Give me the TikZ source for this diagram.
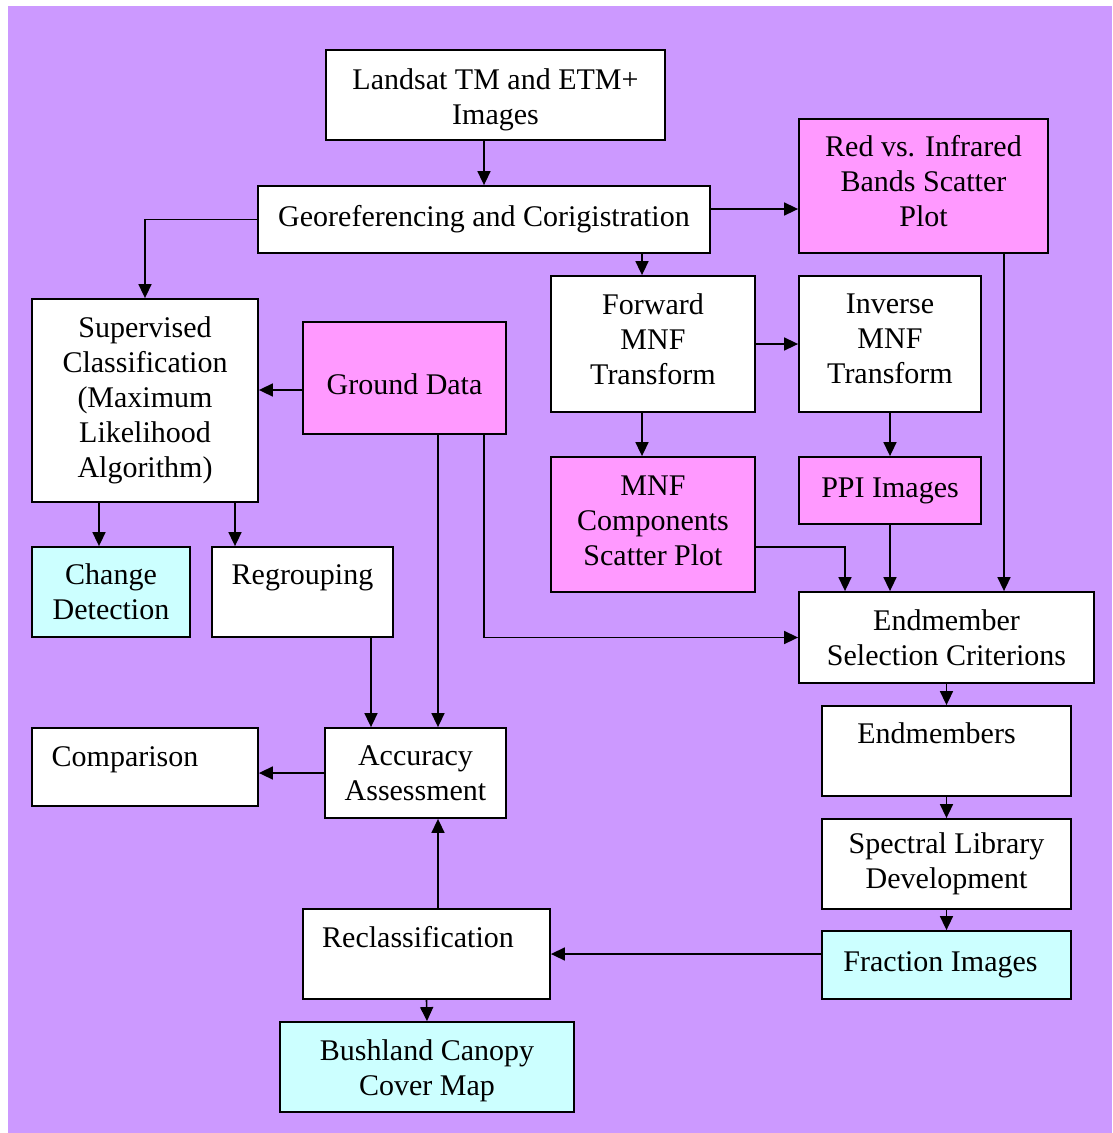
\documentclass[tikz,border=0pt]{standalone}
\usepackage{fontspec}
\setmainfont{Liberation Serif}
\usetikzlibrary{arrows.meta,positioning,calc}
\definecolor{backdrop}{RGB}{204,153,255}
\definecolor{plotpink}{RGB}{255,153,255}
\definecolor{mapcyan}{RGB}{204,255,255}
% struts that move a label down (first line) or up (last line)
\newcommand{\pushdown}[1]{\rule{0pt}{\dimexpr20.5pt+#1\relax}}
\newcommand{\pullup}[1]{\rule[-#1]{0pt}{0pt}}

\begin{document}
\begin{tikzpicture}[
    x=1pt, y=-1pt,
    box/.style={rectangle, draw=black, fill=white, line width=1.8pt, align=center, inner sep=0pt, font={\fontsize{30}{35}\selectfont}},
    plot/.style={box, fill=plotpink},
    result/.style={box, fill=mapcyan},
    arrow/.style={->, >={Triangle[length=14pt,width=13pt]}, line width=1.6pt}
]
    \fill[white] (0,0) rectangle (1112,1133);
    \fill[backdrop] (8,6) rectangle (1112,1133);

    \node[box, minimum width=339pt, minimum height=90pt] (landsat) at (495.5,95) {\pushdown{10pt}Landsat TM and ETM+\\Images};
    \node[box, minimum width=452pt, minimum height=67pt] (georef) at (484,219.5) {Georeferencing and Corigistration};
    \node[plot, minimum width=249pt, minimum height=134pt] (redir) at (923.5,186) {Red vs. Infrared\\Bands Scatter\\Plot\pullup{10pt}};
    \node[box, minimum width=204pt, minimum height=136pt] (fwd) at (653,344) {Forward\\MNF\\Transform\pullup{10pt}};
    \node[box, minimum width=182pt, minimum height=136pt] (inv) at (890,344) {Inverse\\MNF\\Transform\pullup{10pt}};
    \node[box, minimum width=226pt, minimum height=203pt] (superv) at (145,400.5) {Supervised\\Classification\\(Maximum\\Likelihood\\Algorithm)};
    \node[plot, minimum width=203pt, minimum height=112pt] (ground) at (404.5,378) {\pushdown{12pt}Ground Data};
    \node[plot, minimum width=204pt, minimum height=135pt] (mnfcomp) at (653,524.5) {MNF\\Components\\Scatter Plot\pullup{8pt}};
    \node[plot, minimum width=182pt, minimum height=67pt] (ppi) at (890,490.5) {PPI Images};
    \node[result, minimum width=158pt, minimum height=90pt] (change) at (111,592) {Change\\Detection};
    \node[box, minimum width=181pt, minimum height=90pt] (regroup) at (302.5,592) {Regrouping\\~};
    \node[box, minimum width=295pt, minimum height=91pt] (endsel) at (946.5,637.5) {Endmember\\Selection Criterions};
    \node[box, minimum width=249pt, minimum height=90pt] (endmem) at (946.5,751) {Endmembers\hspace*{20pt}\\~};
    \node[box, minimum width=226pt, minimum height=78pt] (compar) at (145,767) {\pushdown{14pt}Comparison\hspace*{40pt}\\~};
    \node[box, minimum width=181pt, minimum height=90pt] (accur) at (415.5,773) {Accuracy\\Assessment};
    \node[box, minimum width=249pt, minimum height=90pt] (spectral) at (946.5,864) {Spectral Library\\Development};
    \node[result, minimum width=249pt, minimum height=68pt] (fraction) at (946.5,965) {Fraction Images\hspace*{12pt}};
    \node[box, minimum width=247pt, minimum height=90pt] (reclass) at (426.5,954) {Reclassification\hspace*{17pt}\\~};
    \node[result, minimum width=294pt, minimum height=90pt] (bush) at (427,1067) {\pushdown{8pt}Bushland Canopy\\Cover Map};

    % preprocessing
    \draw[arrow] (landsat.south -| georef.north) -- (georef.north);
    \draw[arrow] ([yshift=10.5pt]georef.east) -- ([yshift=10.5pt]georef.east -| redir.west);
    \draw[arrow] (georef.west) -| (superv.north);
    \draw[arrow] ([xshift=-11pt]fwd.north |- georef.south) -- ([xshift=-11pt]fwd.north);
    % MNF branch
    \draw[arrow] (fwd.east) -- (inv.west);
    \draw[arrow] ([xshift=-11pt]fwd.south) -- ([xshift=-11pt]mnfcomp.north);
    \draw[arrow] (inv.south) -- (ppi.north);
    \draw[arrow] (ppi.south) -- (ppi.south |- endsel.north);
    \draw[arrow] ([yshift=-22.5pt]mnfcomp.east) -| ([xshift=-101.5pt]endsel.north);
    \draw[arrow] ([xshift=80.5pt]redir.south) -- ([xshift=80.5pt]redir.south |- endsel.north);
    \draw[arrow] ([xshift=79.5pt]ground.south) |- (endsel.west);
    % classification branch
    \draw[arrow] ([yshift=-12pt]ground.west) -- ([yshift=-12pt]ground.west -| superv.east);
    \draw[arrow] ([xshift=33.5pt]ground.south) -- ([xshift=33.5pt]ground.south |- accur.north);
    \draw[arrow] ([xshift=-46pt]superv.south) -- ([xshift=-46pt]superv.south |- change.north);
    \draw[arrow] ([xshift=90pt]superv.south) -- ([xshift=90pt]superv.south |- regroup.north);
    \draw[arrow] ([xshift=68.5pt]regroup.south) -- ([xshift=68.5pt]regroup.south |- accur.north);
    \draw[arrow] (accur.west) -- (accur.west -| compar.east);
    \draw[arrow] ([xshift=11.5pt]reclass.north) -- ([xshift=11.5pt]reclass.north |- accur.south);
    % unmixing chain
    \draw[arrow] (endsel.south) -- (endmem.north);
    \draw[arrow] (endmem.south) -- (spectral.north);
    \draw[arrow] (spectral.south) -- (fraction.north);
    \draw[arrow] (fraction.west |- reclass.east) -- (reclass.east);
    \draw[arrow] (reclass.south) -- (bush.north);
\end{tikzpicture}
\end{document}
